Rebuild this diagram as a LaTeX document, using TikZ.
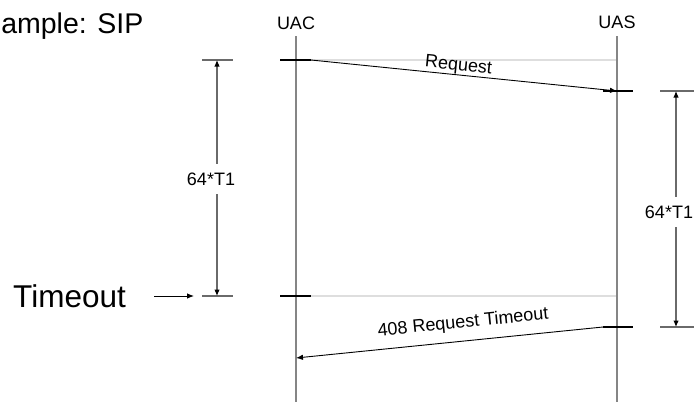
\documentclass[tikz,border=0pt]{standalone}
\usepackage{fontspec}
\setmainfont{Liberation Sans}
\usetikzlibrary{arrows.meta}
\definecolor{lifegrey}{HTML}{858585}
\definecolor{lightgrey}{HTML}{DEDEDE}
\definecolor{dimgrey}{HTML}{6A6A6A}
\tikzset{
  lifeline/.style={draw=lifegrey, line width=1.3pt},
  tickbar/.style={draw=black, line width=2.8pt},
  guide/.style={draw=lightgrey, line width=1.3pt},
  msg/.style={draw=black, line width=0.9pt, -{Latex[length=7pt,width=5.5pt]}},
  dimline/.style={draw=dimgrey, line width=1.1pt, {Latex[length=6.5pt,width=5.5pt,black]}-{Latex[length=6.5pt,width=5.5pt,black]}},
  dimbar/.style={draw=dimgrey, line width=1.1pt},
  small/.style={font=\fontsize{18}{20}\selectfont, inner sep=0pt},
  dimlabel/.style={small, fill=white, inner xsep=1pt, inner ysep=9pt},
}
\begin{document}
\begin{tikzpicture}[x=1pt, y=-1pt]
\useasboundingbox (0,0) rectangle (694,402);
% title (as printed, cut at the left edge in the reference)
\node[font=\fontsize{28.5}{30}\selectfont, inner sep=0pt, anchor=base east] (title) at (143.5,33.3) {ample: SIP};
% lifelines
\node[small, anchor=base] (uac) at (296,29) {UAC};
\node[small, anchor=base] (uas) at (617,28) {UAS};
\coordinate (uacT) at (296,36);
\coordinate (uacB) at (296,402);
\coordinate (uasT) at (617,36);
\coordinate (uasB) at (617,402);
% guide lines
\coordinate (g1a) at (311,60);
\coordinate (g1b) at (617,60);
\coordinate (g2a) at (311,296);
\coordinate (g2b) at (617,296);
\draw[guide] (g1a) -- (g1b);
\draw[guide] (g2a) -- (g2b);
\draw[lifeline] (uacT) -- (uacB);
\draw[lifeline] (uasT) -- (uasB);
% ticks
\coordinate (t1a) at (280,60);  \coordinate (t1b) at (311,60);
\coordinate (t2a) at (603,91);  \coordinate (t2b) at (633,91);
\coordinate (t3a) at (280,296); \coordinate (t3b) at (311,296);
\coordinate (t4a) at (603,327); \coordinate (t4b) at (633,327);
\draw[tickbar] (t1a) -- (t1b);
\draw[tickbar] (t2a) -- (t2b);
\draw[tickbar] (t3a) -- (t3b);
\draw[tickbar] (t4a) -- (t4b);
% messages
\coordinate (req1) at (617,91);
\coordinate (rsp1) at (296,358);
\draw[msg] (t1b) -- node[small, sloped, above=0.5pt, pos=0.479] (reqlabel) {Request} (req1);
\draw[msg] (t4a) -- node[small, sloped, above=9pt, pos=0.45] (rsplabel) {408 Request Timeout} (rsp1);
% left dimension
\coordinate (lb1a) at (202,60);  \coordinate (lb1b) at (233,60);
\coordinate (lb2a) at (202,296); \coordinate (lb2b) at (233,296);
\draw[dimbar] (lb1a) -- (lb1b);
\draw[dimbar] (lb2a) -- (lb2b);
\coordinate (ld1) at (217,60);
\coordinate (ld2) at (217,296);
\draw[dimline] (ld1) -- (ld2);
\node[dimlabel] (llabel) at (211,179) {64*T1};
% right dimension
\coordinate (rb1a) at (660,91);  \coordinate (rb1b) at (694,91);
\coordinate (rb2a) at (660,327); \coordinate (rb2b) at (694,327);
\draw[dimbar] (rb1a) -- (rb1b);
\draw[dimbar] (rb2a) -- (rb2b);
\coordinate (rd1) at (676,91);
\coordinate (rd2) at (676,327);
\draw[dimline] (rd1) -- (rd2);
\node[dimlabel] (rlabel) at (669,212) {64*T1};
% timeout
\node[font=\fontsize{31.5}{33}\selectfont, inner sep=0pt, anchor=west] (timeout) at (13,296.5) {Timeout};
\coordinate (ta) at (154,296);
\coordinate (tb) at (194,296);
\draw[msg] (ta) -- (tb);
\end{tikzpicture}
\end{document}
